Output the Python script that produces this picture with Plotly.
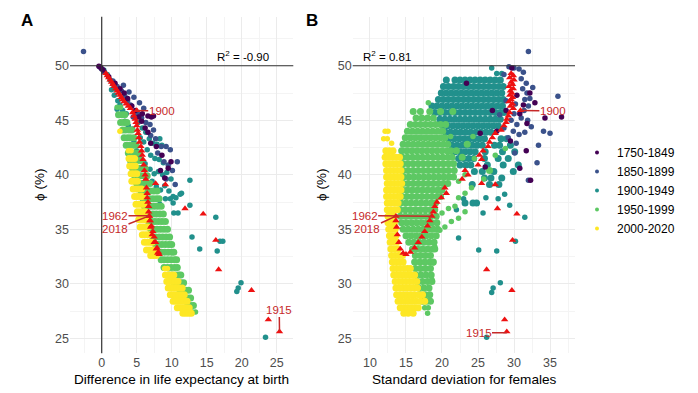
import plotly.graph_objects as go

# ---------------- data ----------------
periods = ["1750-1849", "1850-1899", "1900-1949", "1950-1999", "2000-2020"]
period_colors = ["#440154", "#3B528B", "#21908C", "#5DC863", "#FDE725"]

# Panel A: rows of (phi, [difference in life expectancy values])
A_1750_1849 = [
    (49.95, [-0.4]), (49.8, [-0.1]), (49.6, [0.2]), (49.0, [1.0]), (48.4, [1.9]),
    (47.9, [2.6]), (47.5, [3.2]), (47.0, [3.7]), (46.3, [4.3]), (45.9, [4.8]),
    (45.3, [5.3, 7.1]), (45.4, [6.6, 7.4]), (45.6, [5.8]), (44.9, [5.7]), (44.3, [6.2]),
    (43.9, [6.6]), (42.9, [7.0]), (42.6, [7.8]), (41.8, [8.6]), (41.2, [9.9]),
    (40.6, [9.5]), (40.4, [8.4]), (39.7, [9.0]),
]
A_1850_1899 = [
    (51.3, [-2.6]), (49.9, [-0.3]), (49.7, [0.0]), (49.4, [0.4]), (48.6, [1.6]),
    (48.2, [3.1]), (48.1, [2.2]), (47.7, [2.8]), (47.6, [3.9]), (47.2, [3.3]),
    (47.1, [4.6]), (46.8, [3.7]), (46.6, [5.4]), (46.4, [4.1]), (46.1, [6.0]),
    (45.6, [5.1]), (45.3, [4.5]), (45.2, [5.7]), (44.8, [6.3]), (44.6, [6.9]),
    (44.1, [7.4]), (43.6, [7.0]), (43.3, [7.7]), (42.6, [8.5, 9.2]), (42.3, [9.8]),
    (42.0, [8.0]), (41.2, [8.9, 10.8]), (40.9, [9.5]), (40.4, [10.1]), (39.6, [9.2]),
    (39.1, [10.5]),
]
A_1900_1949 = [
    (49.6, [0.3]), (49.2, [0.8]), (48.7, [1.2]), (48.3, [1.6]), (47.9, [2.0]),
    (47.8, [1.4]), (47.3, [1.8]), (46.8, [2.3]), (46.4, [2.6]), (46.0, [2.2]),
    (45.9, [3.0]), (45.6, [3.5]), (44.9, [3.3]), (44.5, [3.8]), (44.2, [4.4]),
    (43.0, [4.6]), (42.2, [5.0]), (41.6, [5.4]),
    (44.8, [5.2]), (44.3, [5.8]), (43.9, [6.3]), (43.4, [5.5]), (43.0, [6.0]),
    (43.3, [6.8, 8.3]), (42.9, [7.3]), (42.8, [7.9]), (42.7, [8.6]), (42.3, [6.5]),
    (41.8, [7.0]), (41.5, [7.6]), (41.4, [8.2]), (41.1, [8.8]), (41.0, [6.2]),
    (40.5, [6.9]), (40.1, [7.5]), (40.3, [8.1]), (40.0, [8.7]), (40.2, [9.3]),
    (39.6, [9.9]), (39.4, [7.2]), (38.9, [7.8]), (38.6, [8.4]), (39.0, [9.0]),
    (38.5, [9.6]), (38.0, [10.2]), (38.3, [11.4]), (39.5, [12.6]),
    (37.8, [9.1, 9.8]), (37.9, [10.6]), (37.4, [10.2]), (38.2, [11.2]),
    (36.5, [10.3, 10.9]), (37.3, [8.3]), (37.2, [12.6]), (34.3, [12.9]),
    (33.2, [14.0]), (36.1, [16.3]), (33.9, [16.9, 17.3]), (33.0, [16.5]),
    (29.3, [19.3]), (29.6, [19.5]), (30.1, [19.9]), (25.1, [23.4]),
]
A_1950_1999 = [
    (46.2, [2.2, 2.7]),
    (45.5, [2.4, 2.9, 3.3]),
    (44.8, [2.7, 3.2, 3.6]),
    (44.1, [3.0, 3.4, 3.9, 4.3]),
    (43.4, [3.2, 3.7, 4.1, 4.6]),
    (42.7, [3.5, 4.0, 4.5, 4.9]),
    (42.0, [3.8, 4.3, 4.8, 5.3]),
    (41.3, [4.1, 4.6, 5.1, 5.6]),
    (40.6, [4.4, 4.9, 5.4, 5.9, 6.2]),
    (39.9, [4.7, 5.2, 5.6, 6.1, 6.5]),
    (39.2, [5.0, 5.5, 5.9, 6.4, 6.9]),
    (38.5, [5.6, 6.0, 6.4, 6.9, 7.4, 7.9]),
    (37.8, [5.9, 6.3, 6.8, 7.3, 7.8, 8.2]),
    (37.1, [6.1, 6.5, 7.0, 7.5, 8.0, 8.5]),
    (36.4, [6.4, 6.8, 7.3, 7.8, 8.3, 8.8]),
    (35.7, [6.7, 7.1, 7.6, 8.1, 8.6, 9.1]),
    (35.0, [7.0, 7.4, 7.9, 8.4, 8.9, 9.4]),
    (34.3, [7.3, 7.7, 8.2, 8.7, 9.2, 9.7]),
    (33.6, [7.7, 8.1, 8.6, 9.1, 9.6, 10.0]),
    (32.9, [8.1, 8.5, 9.0, 9.5, 10.0, 10.3]),
    (32.2, [8.5, 8.9, 9.4, 9.9, 10.4, 10.7]),
    (31.5, [8.9, 9.4, 9.9, 10.4, 10.8]),
    (30.8, [9.6, 10.1, 10.6, 11.0, 11.3]),
    (30.1, [10.4, 10.9, 11.3, 11.7]),
    (29.4, [11.2, 11.6, 12.0, 12.4]),
    (28.7, [11.9, 12.3, 12.7]),
    (28.0, [12.3, 12.7, 13.1]),
    (27.4, [13.0, 13.4]),
]
A_2000_2020 = [
    (44.0, [2.6]),
    (42.2, [3.8, 4.2]),
    (41.5, [3.9, 4.3, 4.7]),
    (40.8, [4.0, 4.4, 4.8]),
    (40.1, [4.2, 4.6, 5.0]),
    (39.4, [4.3, 4.7, 5.1]),
    (38.7, [4.5, 4.9, 5.3, 5.7]),
    (38.0, [4.7, 5.1, 5.5, 5.8]),
    (37.3, [4.9, 5.3, 5.7, 6.0]),
    (36.6, [5.1, 5.5, 5.9, 6.2]),
    (35.9, [5.3, 5.7, 6.1, 6.4]),
    (35.2, [5.5, 5.9, 6.3, 6.6]),
    (34.5, [5.8, 6.2, 6.6, 6.9]),
    (33.8, [6.1, 6.5, 6.9, 7.2]),
    (33.1, [6.4, 6.8, 7.2, 7.5]),
    (32.6, [7.0, 7.4, 7.8]),
    (31.4, [9.0, 9.4]),
    (30.8, [9.1, 9.5, 9.9, 10.3]),
    (30.2, [9.3, 9.7, 10.1, 10.5, 10.9]),
    (29.6, [9.5, 9.9, 10.3, 10.7, 11.1, 11.5]),
    (29.0, [9.8, 10.2, 10.6, 11.0, 11.4, 11.8]),
    (28.4, [10.2, 10.6, 11.0, 11.4, 11.8, 12.2]),
    (27.8, [10.8, 11.2, 11.6, 12.0, 12.5]),
    (27.3, [11.6, 12.0, 12.4, 12.8]),
]

# Panel B: rows of (phi, [standard deviation for females values])
B_1750_1849 = [
    (49.8, [29.7]), (48.4, [23.4]), (44.0, [27.6]), (45.6, [30.8]), (44.7, [31.8]),
    (45.2, [34.3]), (45.3, [36.6]), (40.6, [30.8]), (39.5, [32.3]), (47.5, [32.2]),
    (46.6, [32.9]), (45.9, [27.0, 28.9]), (43.8, [25.3]), (47.3, [30.4]),
    (46.4, [31.3]), (43.1, [29.5]), (42.2, [31.7]), (40.7, [26.0]),
]
B_1850_1899 = [
    (49.9, [29.3]), (49.8, [30.0]), (49.7, [30.7]), (49.4, [31.3]), (49.2, [28.6]),
    (48.8, [31.0]), (48.4, [31.7]), (47.9, [31.2]), (47.5, [31.8]), (47.0, [32.2]),
    (46.9, [31.5]), (46.3, [32.0]), (45.9, [31.4]), (46.5, [30.2]), (45.6, [30.0]),
    (45.0, [29.6]), (44.6, [30.4]), (45.2, [31.0]), (45.0, [31.9]), (44.4, [32.4]),
    (44.0, [29.9]), (43.7, [30.7]), (43.9, [31.5]), (43.4, [29.2]), (42.9, [30.3]),
    (44.3, [28.6]), (47.2, [36.1]), (44.0, [34.1]), (43.8, [35.0]), (42.7, [33.4]),
    (41.1, [33.2]), (39.5, [32.0]), (42.0, [30.1]), (51.3, [32.0]), (45.5, [28.0]),
    (46.8, [28.9]), (48.0, [32.6]),
]
B_1900_1949 = [
    (49.8, [26.9]),
    (49.3, [27.6, 28.3]),
    (48.7, [20.6, 21.8, 22.5, 23.2, 23.9, 24.6, 25.3, 26.0, 26.7, 27.4, 28.1]),
    (48.1, [20.2, 20.9, 21.6, 22.3, 23.0, 23.7, 24.4, 25.1, 25.8, 26.5, 27.2, 27.9, 28.5]),
    (47.5, [19.9, 20.6, 21.3, 22.0, 22.7, 23.4, 24.1, 24.8, 25.5, 26.2, 26.9, 27.6, 28.3]),
    (46.9, [19.5, 20.2, 20.9, 21.6, 22.3, 23.0, 23.7, 24.4, 25.1, 25.8, 26.5, 27.2, 27.9, 28.5]),
    (46.3, [18.6, 19.3, 20.0, 20.7, 21.4, 22.1, 22.8, 23.5, 24.2, 24.9, 25.6, 26.3, 27.0, 27.7, 28.4]),
    (45.7, [19.0, 19.7, 20.4, 21.1, 21.8, 22.5, 23.2, 23.9, 24.6, 25.3, 26.0, 26.7, 27.4, 28.1, 28.6]),
    (45.1, [19.7, 20.4, 21.1, 21.8, 22.5, 23.2, 23.9, 24.6, 25.3, 26.0, 26.7, 27.4, 28.1]),
    (44.5, [20.1, 20.8, 21.5, 22.2, 22.9, 23.6, 24.3, 25.0, 25.7, 26.4, 27.1, 27.8]),
    (43.9, [20.5, 21.2, 21.9, 22.6, 23.3, 24.0, 24.7, 25.4, 26.1, 26.8]),
    (43.3, [21.0, 21.7, 22.4, 23.1, 23.8, 24.5, 25.2, 25.9, 28.2, 29.0]),
    (42.7, [21.4, 22.1, 22.8, 23.5, 24.2, 24.9, 25.6, 27.3, 28.0, 29.5]),
    (42.1, [21.8, 22.5, 23.2, 23.9, 24.6, 26.0, 28.4, 30.1]),
    (41.5, [22.3, 23.0, 23.7, 24.4, 25.9, 27.8, 29.2]),
    (40.9, [22.5, 23.3, 24.0, 26.3, 28.5, 30.6]),
    (40.3, [24.5, 25.6, 27.2, 29.9]),
    (39.7, [25.9, 26.8, 28.3]),
    (39.1, [24.2, 26.6, 27.9]),
    (38.2, [28.7]), (37.9, [26.1]), (37.8, [23.0, 27.8]), (37.4, [23.2, 24.3, 24.8]),
    (37.2, [29.4]), (36.8, [22.0]), (36.5, [25.7]), (36.1, [31.5]), (34.2, [22.3]),
    (33.1, [25.1]), (33.0, [27.6]), (33.9, [30.2]), (30.1, [28.1]), (29.6, [27.1]),
    (29.2, [26.9]), (25.1, [26.2]),
]
B_1950_1999 = [
    (46.6, [18.1]),
    (45.8, [16.0, 17.0, 18.3, 19.8, 21.5]),
    (45.2, [16.4, 17.2, 18.0, 18.8]),
    (44.6, [15.6, 16.3, 17.0, 17.7, 18.4, 19.1, 19.8, 20.5]),
    (44.0, [15.2, 15.9, 16.6, 17.3, 18.0, 18.7, 19.4, 20.1]),
    (43.5, [21.2, 24.3]),
    (43.4, [14.9, 15.6, 16.3, 17.0, 17.7, 18.4, 19.1, 19.8, 20.4]),
    (42.8, [14.6, 15.3, 16.0, 16.7, 17.4, 18.1, 18.8, 19.5, 20.2, 20.8, 23.5]),
    (42.2, [14.4, 15.1, 15.8, 16.5, 17.2, 17.9, 18.6, 19.3, 20.0, 20.7, 21.2, 22.0]),
    (41.6, [14.5, 15.2, 15.9, 16.6, 17.3, 18.0, 18.7, 19.4, 20.1, 20.8, 21.4, 22.8]),
    (41.0, [14.6, 15.3, 16.0, 16.7, 17.4, 18.1, 18.8, 19.5, 20.2, 20.9, 21.6]),
    (40.4, [14.6, 15.3, 16.0, 16.7, 17.4, 18.1, 18.8, 19.5, 20.2, 20.9, 21.7, 26.6]),
    (39.8, [14.7, 15.4, 16.1, 16.8, 17.5, 18.2, 18.9, 19.6, 20.3, 21.0, 21.6]),
    (39.2, [14.6, 15.3, 16.0, 16.7, 17.4, 18.1, 18.8, 19.5, 20.2, 20.8]),
    (38.6, [14.5, 15.2, 15.9, 16.6, 17.3, 18.0, 18.7, 19.4, 20.0]),
    (38.0, [14.4, 15.1, 15.8, 16.5, 17.2, 17.9, 18.6, 19.3, 19.8]),
    (37.4, [14.3, 15.0, 15.7, 16.4, 17.1, 17.8, 18.5, 19.1]),
    (36.8, [14.2, 14.9, 15.6, 16.3, 17.0, 17.7, 18.4, 19.0]),
    (36.2, [14.2, 14.9, 15.6, 16.3, 17.0, 17.7, 18.4, 19.2]),
    (35.6, [14.4, 15.1, 15.8, 16.5, 17.2, 17.9, 18.6, 19.3]),
    (35.0, [14.6, 15.3, 16.0, 16.7, 17.4, 18.1, 18.8, 19.4]),
    (34.4, [15.0, 15.7, 16.4, 17.1, 17.8, 18.5, 19.2]),
    (33.8, [15.4, 16.1, 16.8, 17.5, 18.2, 18.9]),
    (33.2, [15.9, 16.6, 17.3, 18.0, 18.7, 19.0]),
    (32.6, [16.3, 17.0, 17.7, 18.4]),
    (32.0, [16.2, 16.9, 17.6, 18.3, 18.8]),
    (31.4, [16.3, 17.0, 17.7, 18.4]),
    (30.8, [16.4, 17.1, 17.8, 18.5]),
    (30.2, [16.6, 17.3, 18.0, 18.6]),
    (29.6, [16.8, 17.5, 18.2]),
    (29.0, [17.0, 17.7, 18.3]),
    (28.4, [17.3, 17.9, 18.4]),
    (27.8, [17.6, 18.1]),
    (27.3, [18.0]),
    (34.9, [19.7]), (35.2, [20.4]), (35.7, [21.3]), (36.0, [22.3]), (36.6, [23.2]),
    (36.9, [20.9]), (37.1, [21.8]), (36.5, [20.0]), (37.9, [22.3]), (38.3, [23.2]),
    (38.8, [24.1]), (33.4, [19.0]), (31.9, [18.8]), (30.4, [18.6]), (39.4, [22.3]),
    (40.0, [23.2]), (41.8, [27.4]), (42.4, [28.8]), (41.5, [24.5]), (39.6, [25.8]),
]
B_2000_2020 = [
    (44.0, [12.1, 12.5]),
    (43.3, [11.9, 12.4]),
    (42.9, [13.0]),
    (42.2, [12.2, 12.7, 13.2]),
    (41.6, [12.1, 12.6, 13.1, 13.6, 14.1]),
    (41.0, [12.2, 12.7, 13.2, 13.7, 14.2]),
    (40.4, [12.3, 12.8, 13.3, 13.8, 14.3]),
    (39.8, [12.3, 12.8, 13.3, 13.8, 14.3]),
    (39.2, [12.4, 12.9, 13.4, 13.9, 14.4]),
    (38.6, [12.3, 12.8, 13.3, 13.8, 14.3]),
    (38.0, [12.3, 12.8, 13.3, 13.8, 14.2]),
    (37.4, [12.4, 12.9, 13.4, 13.9]),
    (36.8, [12.4, 12.9, 13.4, 13.8]),
    (36.2, [12.5, 12.9, 13.3]),
    (35.6, [12.5, 13.0, 13.4]),
    (35.0, [12.6, 13.0, 13.5]),
    (34.4, [12.7, 13.1, 13.6]),
    (33.8, [12.8, 13.2, 13.7]),
    (33.2, [12.9, 13.4, 13.9]),
    (32.6, [13.0, 13.5, 14.0, 14.5]),
    (32.0, [13.1, 13.6, 14.1, 14.6]),
    (31.4, [13.2, 13.7, 14.2, 14.7, 15.2, 15.6]),
    (30.8, [13.3, 13.8, 14.3, 14.8, 15.3, 15.8, 16.2]),
    (30.2, [13.5, 14.0, 14.5, 15.0, 15.5, 16.0, 16.5]),
    (29.6, [13.6, 14.1, 14.6, 15.1, 15.6, 16.1, 16.6]),
    (29.0, [13.7, 14.2, 14.7, 15.2, 15.7, 16.2, 16.8, 17.3]),
    (28.4, [13.9, 14.4, 14.9, 15.4, 15.9, 16.4, 17.0, 17.6]),
    (27.8, [14.2, 14.7, 15.2, 15.7, 16.2, 16.7]),
    (27.3, [14.7, 15.3, 16.0]),
]

# Highlighted country (red triangles): phi, difference in e0, sd for females
red_phi = [49.3, 49.1, 48.9, 48.7, 48.5, 48.3, 48.1, 47.9, 47.7, 47.5, 47.3, 47.1, 46.9,
           46.7, 46.5, 46.3, 46.1, 45.9, 45.7, 45.4, 45.1, 44.8, 44.5, 44.1, 43.8, 43.4,
           43.0, 42.6, 42.2, 41.8, 41.4, 40.9, 40.4, 40.0, 39.6, 39.2, 39.1, 38.8, 38.3,
           37.9, 37.5, 37.1, 36.6, 36.2, 35.8, 35.3, 34.8, 34.3, 33.8, 33.3, 32.9, 32.7,
           32.8, 33.2, 33.8, 34.5, 35.2, 35.8, 36.2,
           36.9, 36.4, 34.0, 31.3, 29.4, 26.7, 25.6]
red_diff = [0.6, 0.8, 1.0, 1.2, 1.4, 1.6, 1.8, 2.0, 2.2, 2.4, 2.6, 2.8, 3.0,
            3.2, 3.5, 3.8, 4.1, 5.0, 4.4, 4.6, 4.8, 4.9, 5.0, 5.1, 5.2, 5.3,
            5.4, 5.6, 5.7, 5.8, 5.9, 6.0, 6.1, 6.2, 6.3, 7.7, 9.1, 6.4, 6.5,
            6.5, 6.6, 6.7, 6.7, 6.8, 6.9, 7.1, 7.3, 7.5, 7.7, 7.9, 8.1, 8.2,
            8.0, 7.8, 7.5, 7.2, 7.0, 6.9, 6.8,
            11.9, 14.5, 16.3, 16.7, 21.4, 23.8, 25.4]
red_sd = [29.6, 29.9, 29.4, 30.0, 29.6, 29.8, 29.3, 29.9, 29.5, 29.7, 29.4, 29.8, 29.6,
          29.3, 29.8, 29.5, 29.9, 30.9, 29.4, 29.2, 29.0, 28.9, 28.6, 28.2, 27.4, 27.0,
          26.6, 26.4, 25.7, 25.2, 25.5, 25.0, 23.2, 23.6, 22.8, 25.5, 27.4, 20.4, 20.6,
          19.9, 19.3, 19.0, 18.8, 18.6, 18.3, 18.0, 17.6, 17.2, 16.7, 16.2, 15.6, 15.0,
          14.6, 14.2, 14.0, 13.8, 13.7, 13.6, 13.6,
          27.7, 30.4, 29.8, 26.2, 29.7, 28.7, 29.0]

r2_labels = ["R<sup>2</sup> = -0.90", "R<sup>2</sup> = 0.81"]
x_titles = ["Difference in life expectancy at birth", "Standard deviation for females"]
y_title = "ϕ (%)"

# ---------------- figure ----------------
FONT = "Liberation Sans, Arial, Helvetica, sans-serif"
RED = "#EE1111"
LAB = "#C62828"


def expand(rows):
    xs, ys, sz = [], [], []
    for yv, xvals in rows:
        dense = len(xvals) >= 3
        for xv in xvals:
            xs.append(xv)
            ys.append(yv)
            sz.append(7 if dense else 5.5)
    return xs, ys, sz


fig = go.Figure()
groupsA = [A_1750_1849, A_1850_1899, A_1900_1949, A_1950_1999, A_2000_2020]
groupsB = [B_1750_1849, B_1850_1899, B_1900_1949, B_1950_1999, B_2000_2020]
draw_order = [2, 3, 4, 1, 0]
for panel, groups, xa, ya in [(0, groupsA, "x", "y"), (1, groupsB, "x2", "y2")]:
    for i in draw_order:
        xs, ys, sz = expand(groups[i])
        fig.add_trace(go.Scatter(
            x=xs, y=ys, mode="markers", xaxis=xa, yaxis=ya,
            marker=dict(color=period_colors[i], size=sz, opacity=1, line=dict(width=0)),
            name=periods[i], legendgroup=periods[i],
            showlegend=False, hoverinfo="skip"))

# legend-only entries (small keys like the reference)
for i in range(5):
    fig.add_trace(go.Scatter(
        x=[None], y=[None], mode="markers", xaxis="x", yaxis="y",
        marker=dict(color=period_colors[i], size=4, opacity=1, line=dict(width=0)),
        name=periods[i], legendgroup=periods[i], legendrank=i + 1,
        showlegend=True, hoverinfo="skip"))

fig.add_trace(go.Scatter(x=red_diff, y=red_phi, mode="markers", xaxis="x", yaxis="y",
                         marker=dict(symbol="triangle-up", color=RED, size=6.5, opacity=1,
                                     line=dict(width=0)),
                         showlegend=False, hoverinfo="skip"))
fig.add_trace(go.Scatter(x=red_sd, y=red_phi, mode="markers", xaxis="x2", yaxis="y2",
                         marker=dict(symbol="triangle-up", color=RED, size=6.5, opacity=1,
                                     line=dict(width=0)),
                         showlegend=False, hoverinfo="skip"))

W, H = 698, 393
xdomA = [70 / W, 293.3 / W]
xdomB = [352.7 / W, 575 / W]
ydom = [(H - 353.3) / H, (H - 16.7) / H]

grid_major = "#EBEBEB"
grid_minor = "#F4F4F4"
tickfont = dict(family=FONT, size=12.5, color="#4D4D4D")


def xaxis(dom, rng, anchor):
    return dict(domain=dom, range=rng, anchor=anchor, dtick=5, tick0=0,
                showgrid=True, gridcolor=grid_major, gridwidth=1,
                minor=dict(dtick=2.5, showgrid=True, gridcolor=grid_minor, gridwidth=0.6),
                zeroline=False, showline=False, ticks="", tickfont=tickfont,
                automargin=False)


def yaxis(rng, anchor):
    return dict(domain=ydom, range=rng, anchor=anchor, dtick=5, tick0=0,
                showgrid=True, gridcolor=grid_major, gridwidth=1,
                minor=dict(dtick=2.5, showgrid=True, gridcolor=grid_minor, gridwidth=0.6),
                zeroline=False, showline=False, ticks="", tickfont=tickfont,
                automargin=False)


fig.update_layout(
    width=W, height=H,
    margin=dict(l=0, r=0, t=0, b=0, pad=0, autoexpand=False),
    paper_bgcolor="white", plot_bgcolor="white",
    font=dict(family=FONT, color="black"),
    xaxis=xaxis(xdomA, [-4.53, 27.37], "y"),
    yaxis=yaxis([23.62, 54.5], "x"),
    xaxis2=xaxis(xdomB, [7.6, 38.47], "y2"),
    yaxis2=yaxis([23.62, 54.5], "x2"),
    legend=dict(x=577 / W, y=1 - 138 / H, xanchor="left", yanchor="top",
                font=dict(family=FONT, size=12, color="black"),
                bgcolor="rgba(0,0,0,0)", borderwidth=0, tracegroupgap=0,
                itemsizing="trace"),
    showlegend=True,
)

# reference lines
line_col = "#333333"
fig.add_shape(type="line", xref="x", yref="y domain", x0=0, x1=0, y0=0, y1=1,
              line=dict(color=line_col, width=1.2))
fig.add_shape(type="line", xref="x domain", yref="y", x0=0, x1=1, y0=50, y1=50,
              line=dict(color=line_col, width=1.2))
fig.add_shape(type="line", xref="x2 domain", yref="y2", x0=0, x1=1, y0=50, y1=50,
              line=dict(color=line_col, width=1.2))

ann = []
# R2 labels
ann.append(dict(xref="x", yref="y", x=16.2, y=50.85, text=r2_labels[0], showarrow=False,
                xanchor="left", yanchor="middle", font=dict(size=11.5, color="black")))
ann.append(dict(xref="x2", yref="y2", x=8.7, y=50.85, text=r2_labels[1], showarrow=False,
                xanchor="left", yanchor="middle", font=dict(size=11.5, color="black")))
# panel letters
ann.append(dict(xref="paper", yref="paper", x=27 / W, y=1 - 21 / H, text="<b>A</b>",
                xanchor="center", yanchor="middle",
                showarrow=False, font=dict(size=17, color="black")))
ann.append(dict(xref="paper", yref="paper", x=312 / W, y=1 - 21 / H, text="<b>B</b>",
                xanchor="center", yanchor="middle",
                showarrow=False, font=dict(size=17, color="black")))
# axis titles
ann.append(dict(xref="paper", yref="paper", x=181.5 / W, y=1 - 379.5 / H, text=x_titles[0],
                xanchor="center", yanchor="middle",
                showarrow=False, font=dict(size=13.6, color="black")))
ann.append(dict(xref="paper", yref="paper", x=464 / W, y=1 - 379.5 / H, text=x_titles[1],
                xanchor="center", yanchor="middle",
                showarrow=False, font=dict(size=13.6, color="black")))
ann.append(dict(xref="paper", yref="paper", x=40 / W, y=1 - 185 / H, text=y_title,
                xanchor="center", yanchor="middle",
                textangle=-90, showarrow=False, font=dict(size=13.6, color="black")))
ann.append(dict(xref="paper", yref="paper", x=322 / W, y=1 - 185 / H, text=y_title,
                xanchor="center", yanchor="middle",
                textangle=-90, showarrow=False, font=dict(size=13.6, color="black")))

# year labels with leader lines
year_labels = [
    ("x", "y", "1900", 4.9, 45.9, 8.57, 45.85),
    ("x", "y", "1962", 6.6, 36.25, 1.9, 36.25),
    ("x", "y", "2018", 6.7, 36.2, 1.9, 35.0),
    ("x", "y", "1915", 25.4, 25.65, 25.36, 27.55),
    ("x2", "y2", "1900", 30.9, 45.9, 35.4, 45.85),
    ("x2", "y2", "1962", 18.6, 36.2, 9.26, 36.25),
    ("x2", "y2", "2018", 13.6, 36.2, 9.65, 35.0),
    ("x2", "y2", "1915", 29.0, 25.5, 25.07, 25.5),
]
for xr, yr, txt, px, py, tx, ty in year_labels:
    ann.append(dict(xref=xr, yref=yr, x=px, y=py, axref=xr, ayref=yr, ax=tx, ay=ty,
                    text=txt, showarrow=True, arrowhead=0, arrowwidth=1.5,
                    arrowcolor=LAB, standoff=0, startstandoff=0,
                    font=dict(size=11.5, color=LAB), borderpad=0))
fig.update_layout(annotations=ann)

fig.write_html("out.html", config={"displayModeBar": False},
               post_script="document.body.style.margin='0px';document.body.style.overflow='hidden';")
